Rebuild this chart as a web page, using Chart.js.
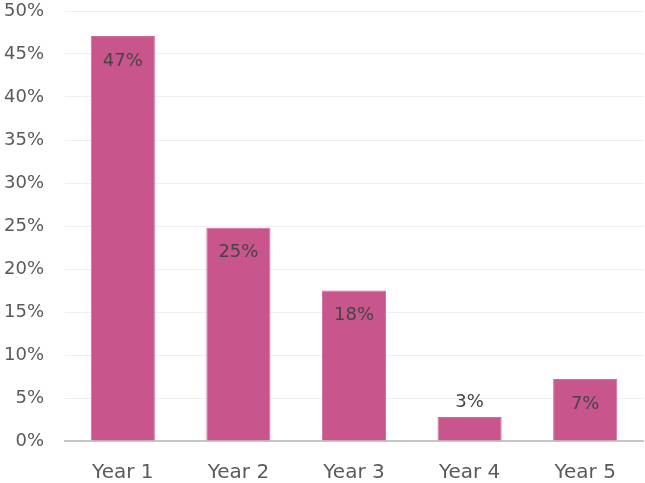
<!DOCTYPE html>
<html>
<head>
<meta charset="utf-8">
<script src="https://cdn.jsdelivr.net/npm/chart.js@4"></script>
<style>
html,body{margin:0;padding:0;background:#fff;}
#wrap{width:645px;height:483px;}
</style>
</head>
<body>
<div id="wrap"><canvas id="c" width="645" height="483"></canvas></div>
<script>
const categories = ["Year 1", "Year 2", "Year 3", "Year 4", "Year 5"];
const values = [47.1, 24.8, 17.5, 2.8, 7.2];
const valueLabels = ["47%", "25%", "18%", "3%", "7%"];
const yTicks = [0, 5, 10, 15, 20, 25, 30, 35, 40, 45, 50];

const FONT = "'DejaVu Sans', sans-serif";

const labelPlugin = {
  id: 'barLabels',
  afterDatasetsDraw(chart) {
    const ctx = chart.ctx;
    const meta = chart.getDatasetMeta(0);
    ctx.save();
    ctx.font = "18px " + FONT;
    ctx.fillStyle = "#454545";
    ctx.textAlign = "center";
    ctx.textBaseline = "middle";
    meta.data.forEach((bar, i) => {
      const h = bar.base - bar.y;
      let y;
      if (h > 40) y = bar.y + 25; else y = bar.y - 15;
      ctx.fillText(valueLabels[i], bar.x, y);
    });
    ctx.restore();
  }
};

new Chart(document.getElementById('c'), {
  type: 'bar',
  data: {
    labels: categories,
    datasets: [{
      data: values,
      backgroundColor: '#C9558D',
      borderColor: '#D06A9B',
      borderWidth: 1,
      categoryPercentage: 1.0,
      barPercentage: 0.555
    }]
  },
  options: {
    responsive: false,
    animation: false,
    devicePixelRatio: 1,
    layout: { padding: { top: 11, right: 2, left: 0, bottom: 0 } },
    plugins: { legend: { display: false }, tooltip: { enabled: false } },
    scales: {
      x: {
        grid: { display: false, drawTicks: false },
        border: { display: true, color: '#C6C6C6', width: 2 },
        ticks: { color: '#5a5a5a', font: { family: FONT, size: 20 }, padding: 20 },
        afterFit(s) { s.height = 42; s.paddingLeft = 0; s.paddingRight = 0; }
      },
      y: {
        min: 0, max: 50,
        afterBuildTicks(s) { s.ticks = yTicks.map(v => ({ value: v })); },
        grid: { color: '#EFEFEF', lineWidth: 1, drawTicks: false },
        border: { display: false },
        ticks: {
          color: '#5a5a5a',
          font: { family: FONT, size: 18 },
          padding: 21,
          callback: v => v + '%'
        },
        afterFit(s) { s.width = 65; s.paddingTop = 0; s.paddingBottom = 0; }
      }
    }
  },
  plugins: [labelPlugin]
});
</script>
</body>
</html>
